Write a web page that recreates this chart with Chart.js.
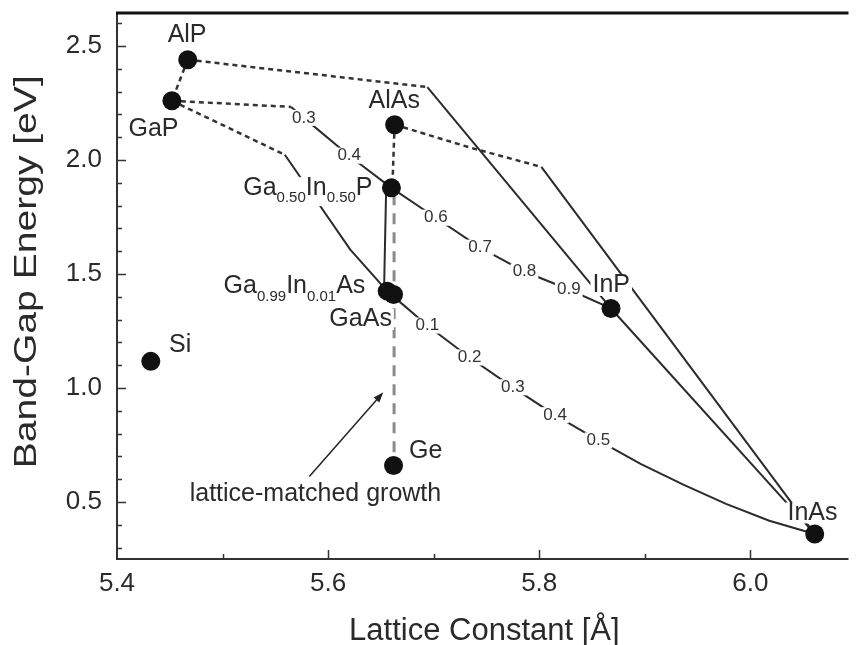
<!DOCTYPE html>
<html>
<head>
<meta charset="utf-8">
<script src="https://cdn.jsdelivr.net/npm/chart.js@4.4.1/dist/chart.umd.min.js"></script>
<style>
  html, body { margin: 0; padding: 0; background: #fff; overflow: hidden; }
</style>
</head>
<body>
<canvas id="myChart" width="858" height="645"></canvas>
<script>
// binary compounds and elements: lattice constant [A], band gap [eV]
const compounds = ['AlP', 'GaP', 'AlAs', 'Ga0.50In0.50P', 'GaAs', 'Ga0.99In0.01As', 'InP', 'InAs', 'Si', 'Ge'];
const latticeConst = [5.467, 5.452, 5.663, 5.660, 5.656, 5.662, 5.868, 6.061, 5.432, 5.662];
const bandGap = [2.44, 2.26, 2.155, 1.878, 1.425, 1.41, 1.349, 0.36, 1.117, 0.66];

// GaInP from GaP to InP (indirect part dotted)
const gaInPIndA = [5.452, 5.565];
const gaInPIndE = [2.26, 2.233];
const gaInPA = [5.565, 5.577, 5.620, 5.660, 5.702, 5.744, 5.786, 5.828, 5.868];
const gaInPE = [2.233, 2.185, 2.019, 1.878, 1.747, 1.616, 1.511, 1.432, 1.349];
const gaInPFrac = ['', '0.3', '0.4', '', '0.6', '0.7', '0.8', '0.9', ''];

// GaInAs from GaAs to InAs
const gaInAsA = [5.656, 5.694, 5.734, 5.775, 5.815, 5.856, 5.896, 5.937, 5.977, 6.018, 6.061];
const gaInAsE = [1.425, 1.274, 1.134, 1.003, 0.881, 0.770, 0.667, 0.575, 0.492, 0.418, 0.36];
const gaInAsFrac = ['', '0.1', '0.2', '0.3', '0.4', '0.5', '', '', '', '', ''];

// GaAsP from GaP to GaAs
const gaAsPIndA = [5.452, 5.559];
const gaAsPIndE = [2.26, 2.023];
const gaAsPA = [5.559, 5.621, 5.656];
const gaAsPE = [2.023, 1.607, 1.425];

// AlGaAs from AlAs to GaAs
const alGaAsIndA = [5.663, 5.661];
const alGaAsIndE = [2.155, 1.90];
const alGaAsA = [5.655, 5.653];
const alGaAsE = [1.878, 1.43];

// AlP - GaP
const alGaPA = [5.467, 5.452];
const alGaPE = [2.44, 2.26];

// AlInP from AlP to InP
const alInPIndA = [5.467, 5.694];
const alInPIndE = [2.44, 2.32];
const alInPA = [5.694, 5.868];
const alInPE = [2.32, 1.349];

// AlInAs from AlAs to InAs
const alInAsIndA = [5.663, 5.735, 5.802];
const alInAsIndE = [2.155, 2.054, 1.970];
const alInAsA = [5.802, 6.061];
const alInAsE = [1.970, 0.36];

// InAsP from InP to InAs
const inAsPA = [5.868, 6.061];
const inAsPE = [1.349, 0.36];

// lattice matched to GaAs / Ge
const matchA = [5.6625, 5.6625];
const matchE = [1.85, 0.69];

const xTicks = [5.4, 5.6, 5.8, 6.0];
const yTicks = [0.5, 1.0, 1.5, 2.0, 2.5];

const FONT = "'Liberation Sans', Arial, sans-serif";
const INK = '#2a2a2a';

function pts(xs, ys) {
  return xs.map((x, i) => ({x: x, y: ys[i]}));
}

function curve(xs, ys, style) {
  return Object.assign({
    type: 'line',
    data: pts(xs, ys),
    borderColor: '#2b2b2b',
    borderWidth: 2,
    pointRadius: 0,
    fill: false,
    tension: 0
  }, style || {});
}

const dotted = {borderDash: [5, 4], borderWidth: 2.5, borderColor: '#333'};

// text labels: [segments], anchor in data units, alignment
const labels = [
  {seg: [['AlP']], x: 5.4664, y: 2.548, align: 'center'},
  {seg: [['GaP']], x: 5.4346, y: 2.137, align: 'center'},
  {seg: [['AlAs']], x: 5.6626, y: 2.259, align: 'center'},
  {seg: [['Ga'], ['0.50', 1], ['In'], ['0.50', 1], ['P']], x: 5.5196, y: 1.879, align: 'left'},
  {seg: [['Ga'], ['0.99', 1], ['In'], ['0.01', 1], ['As']], x: 5.501, y: 1.445, align: 'left'},
  {seg: [['GaAs']], x: 5.6308, y: 1.301, align: 'center'},
  {seg: [['InP']], x: 5.8682, y: 1.45, align: 'center'},
  {seg: [['InAs']], x: 6.0589, y: 0.452, align: 'center'},
  {seg: [['Si']], x: 5.4598, y: 1.187, align: 'center', noBox: true},
  {seg: [['Ge']], x: 5.6925, y: 0.723, align: 'center', noBox: true},
  {seg: [['lattice-matched growth']], x: 5.588, y: 0.535, align: 'center', noBox: true}
];

// arrow towards the lattice-matched line
const arrowFrom = {x: 5.5822, y: 0.612};
const arrowTo = {x: 5.6523, y: 0.981};

function drawLabel(ctx, sx, sy, lab) {
  const big = lab.size || 25, small = 15;
  const px = sx.getPixelForValue(lab.x), py = sy.getPixelForValue(lab.y);
  ctx.textBaseline = 'middle';
  ctx.textAlign = 'left';
  let w = 0;
  lab.seg.forEach(s => {
    ctx.font = (s[1] ? small : big) + 'px ' + FONT;
    w += ctx.measureText(s[0]).width;
  });
  let x = lab.align === 'center' ? px - w / 2 : px;
  if (!lab.noBox) {
    ctx.fillStyle = '#fff';
    ctx.fillRect(x - 2, py - big * 0.42, w + 4, big * 0.84 + (lab.seg.length > 1 ? 8 : 0));
  }
  ctx.fillStyle = INK;
  lab.seg.forEach(s => {
    ctx.font = (s[1] ? small : big) + 'px ' + FONT;
    ctx.fillText(s[0], x, s[1] ? py + 10 : py);
    x += ctx.measureText(s[0]).width;
  });
}

function drawFrac(ctx, sx, sy, xs, ys, fr) {
  ctx.font = '17px ' + FONT;
  ctx.textAlign = 'center';
  ctx.textBaseline = 'middle';
  fr.forEach((t, i) => {
    if (!t) return;
    const px = sx.getPixelForValue(xs[i]), py = sy.getPixelForValue(ys[i]);
    const w = ctx.measureText(t).width;
    ctx.fillStyle = '#fff';
    ctx.fillRect(px - w / 2 - 2, py - 8, w + 4, 16);
    ctx.fillStyle = '#333';
    ctx.fillText(t, px, py);
  });
}

const annotations = {
  id: 'annotations',
  beforeDatasetDraw(chart, args) {
    // dataset 0 (the dots) is drawn last, so labels go under the dots
    if (args.index !== 0) return;
    const ctx = chart.ctx, sx = chart.scales.x, sy = chart.scales.y;
    ctx.save();
    drawFrac(ctx, sx, sy, gaInPA, gaInPE, gaInPFrac);
    drawFrac(ctx, sx, sy, gaInAsA, gaInAsE, gaInAsFrac);
    labels.forEach(l => drawLabel(ctx, sx, sy, l));

    const x0 = sx.getPixelForValue(arrowFrom.x), y0 = sy.getPixelForValue(arrowFrom.y);
    const x1 = sx.getPixelForValue(arrowTo.x), y1 = sy.getPixelForValue(arrowTo.y);
    const ang = Math.atan2(y1 - y0, x1 - x0);
    ctx.strokeStyle = '#222';
    ctx.lineWidth = 1.5;
    ctx.beginPath();
    ctx.moveTo(x0, y0);
    ctx.lineTo(x1 - 6 * Math.cos(ang), y1 - 6 * Math.sin(ang));
    ctx.stroke();
    ctx.fillStyle = '#222';
    ctx.beginPath();
    ctx.moveTo(x1, y1);
    ctx.lineTo(x1 - 11 * Math.cos(ang - 0.35), y1 - 11 * Math.sin(ang - 0.35));
    ctx.lineTo(x1 - 11 * Math.cos(ang + 0.35), y1 - 11 * Math.sin(ang + 0.35));
    ctx.closePath();
    ctx.fill();
    ctx.restore();
  },
  afterDraw(chart) {
    const ctx = chart.ctx, sx = chart.scales.x, sy = chart.scales.y;
    const a = chart.chartArea;
    ctx.save();
    ctx.strokeStyle = '#333';
    ctx.lineWidth = 1.5;
    // inward ticks, minor every 0.1 on both axes
    for (let v = 0.3; v <= 2.65; v += 0.1) {
      const major = Math.abs(v * 2 - Math.round(v * 2)) < 1e-6;
      const y = Math.round(sy.getPixelForValue(v)) + 0.5;
      ctx.beginPath();
      ctx.moveTo(a.left, y);
      ctx.lineTo(a.left + (major ? 9 : 5), y);
      ctx.stroke();
    }
    for (let v = 5.5; v <= 6.09; v += 0.1) {
      const major = Math.abs(v * 5 - Math.round(v * 5)) < 1e-6;
      const x = Math.round(sx.getPixelForValue(v)) + 0.5;
      ctx.beginPath();
      ctx.moveTo(x, a.bottom);
      ctx.lineTo(x, a.bottom - (major ? 9 : 5));
      ctx.stroke();
    }
    // frame: left, bottom and a heavy top edge
    ctx.strokeStyle = '#333';
    ctx.lineWidth = 2;
    ctx.beginPath();
    ctx.moveTo(a.left, a.top);
    ctx.lineTo(a.left, a.bottom);
    ctx.lineTo(a.right, a.bottom);
    ctx.stroke();
    ctx.strokeStyle = '#111';
    ctx.lineWidth = 3;
    ctx.beginPath();
    ctx.moveTo(a.left - 1, a.top);
    ctx.lineTo(a.right, a.top);
    ctx.stroke();

    // tick labels from the scales' own ticks
    ctx.fillStyle = INK;
    ctx.font = '26px ' + FONT;
    ctx.textBaseline = 'middle';
    ctx.textAlign = 'right';
    sy.ticks.forEach(t => {
      ctx.fillText(t.value.toFixed(1), a.left - 15, sy.getPixelForValue(t.value));
    });
    ctx.textAlign = 'center';
    sx.ticks.forEach(t => {
      ctx.fillText(t.value.toFixed(1), sx.getPixelForValue(t.value), a.bottom + 25);
    });
    // axis titles
    ctx.font = '31px ' + FONT;
    ctx.fillText('Lattice Constant [Å]', sx.getPixelForValue(5.748), a.bottom + 72);
    ctx.save();
    ctx.translate(27, sy.getPixelForValue(1.51));
    ctx.rotate(-Math.PI / 2);
    ctx.scale(1.26, 1);
    ctx.font = '31px ' + FONT;
    ctx.fillText('Band-Gap Energy [eV]', 0, 0);
    ctx.restore();
    ctx.restore();
  }
};

const ctx = document.getElementById('myChart').getContext('2d');

new Chart(ctx, {
  type: 'scatter',
  data: {
    datasets: [
      {
        type: 'scatter',
        data: pts(latticeConst, bandGap),
        pointRadius: 9.5,
        pointBackgroundColor: '#111',
        pointBorderWidth: 0
      },
      curve(matchA, matchE, {borderColor: '#8a8a8a', borderWidth: 3, borderDash: [11, 8]}),
      curve(alGaPA, alGaPE, dotted),
      curve(alInPIndA, alInPIndE, dotted),
      curve(alInPA, alInPE),
      curve(alInAsIndA, alInAsIndE, dotted),
      curve(alInAsA, alInAsE),
      curve(inAsPA, inAsPE),
      curve(gaInPIndA, gaInPIndE, dotted),
      curve(gaInPA, gaInPE),
      curve(gaAsPIndA, gaAsPIndE, dotted),
      curve(gaAsPA, gaAsPE),
      curve(alGaAsIndA, alGaAsIndE, dotted),
      curve(alGaAsA, alGaAsE),
      curve(gaInAsA, gaInAsE)
    ]
  },
  options: {
    responsive: false,
    animation: false,
    layout: {padding: {top: 13, left: 0, right: 0, bottom: 0}},
    plugins: {legend: {display: false}, tooltip: {enabled: false}},
    scales: {
      x: {
        type: 'linear',
        min: 5.4,
        max: 6.093,
        afterFit: s => { s.height = 86; },
        afterBuildTicks: s => { s.ticks = xTicks.map(v => ({value: v})); },
        grid: {display: false},
        border: {display: false},
        ticks: {display: false}
      },
      y: {
        type: 'linear',
        min: 0.25,
        max: 2.645,
        afterFit: s => { s.width = 117; },
        afterBuildTicks: s => { s.ticks = yTicks.map(v => ({value: v})); },
        grid: {display: false},
        border: {display: false},
        ticks: {display: false}
      }
    }
  },
  plugins: [annotations]
});
</script>
</body>
</html>
